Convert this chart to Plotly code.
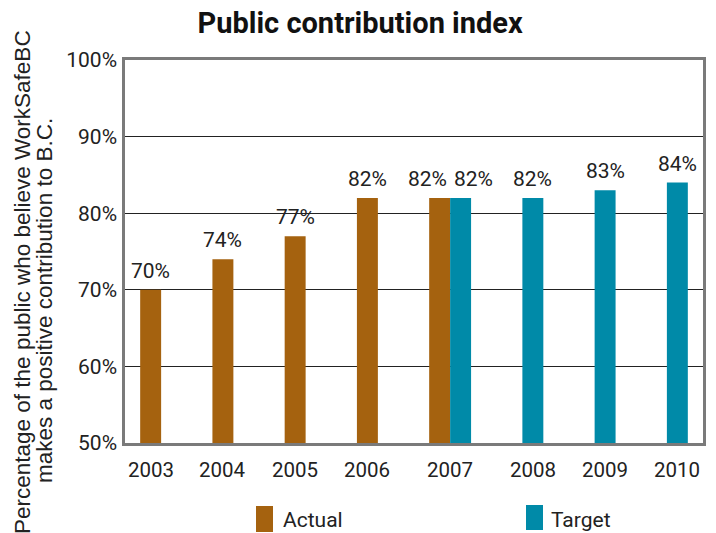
import plotly.graph_objects as go

years = ["2003", "2004", "2005", "2006", "2007", "2008", "2009", "2010"]
actual = [70, 74, 77, 82, 82, None, None, None]
target = [None, None, None, None, 82, 82, 83, 84]
y_ticks = [50, 60, 70, 80, 90, 100]
y_tick_text = ["50%", "60%", "70%", "80%", "90%", "100%"]
series_names = ["Actual", "Target"]
y_title_lines = [
    "Percentage of the public who believe WorkSafeBC",
    "makes a positive contribution to B.C.",
]

TXT = "Roboto, Liberation Sans, sans-serif"
BROWN = "#A5620F"
TEAL = "#008AA8"
INK = "#222222"
FRAME = "#7a7a7a"

W, H = 716, 533
L, R, T, B = 125, 13, 60, 90
PW, PH = W - L - R, H - T - B


def px_x(px):
    return (px - L) / PW


def px_y(py):
    return (H - B - py) / PH


fig = go.Figure()
for name, vals, color in zip(series_names, [actual, target], [BROWN, TEAL]):
    fig.add_trace(go.Bar(name=name, x=years, y=vals, marker_color=color,
                         marker_line_width=0, showlegend=False))

# value labels above each bar and year labels beneath the bars
# (annotations on a category axis are placed by category index)
HALF = 10.5
for idx, (yr, a, t) in enumerate(zip(years, actual, target)):
    both = a is not None and t is not None
    for val, sign in ((a, -1), (t, 1)):
        if val is None:
            continue
        fig.add_annotation(
            x=idx, y=val, text=f"{val}%", showarrow=False,
            xanchor="center", yanchor="bottom",
            xshift=sign * (23 if both else HALF), yshift=5,
            font=dict(family=TXT, size=21, color=INK),
        )
    shift = 0 if both else (-HALF if a is not None else HALF)
    fig.add_annotation(
        x=idx, y=0, yref="paper", text=yr, showarrow=False,
        xanchor="center", yanchor="middle", xshift=shift, yshift=-27,
        font=dict(family=TXT, size=20.5, color=INK),
    )

# legend swatches with their captions
for name, color, (sx0, sx1, sy0, sy1), tx in zip(
        series_names, [BROWN, TEAL],
        [(256, 273, 506, 532), (526, 543, 505, 530)], [281, 549]):
    fig.add_shape(type="rect", xref="paper", yref="paper",
                  x0=px_x(sx0), x1=px_x(sx1), y0=px_y(sy1), y1=px_y(sy0),
                  fillcolor=color, line_width=0)
    fig.add_annotation(text=name, xref="paper", yref="paper",
                       x=px_x(tx), y=px_y(520), showarrow=False,
                       xanchor="left", yanchor="middle",
                       font=dict(family=TXT, size=21, color=INK))

# rotated axis caption, two tightly spaced lines
for line, xpx, ypx in zip(y_title_lines, [22, 44], [282, 301]):
    fig.add_annotation(
        text=line, textangle=-90, showarrow=False,
        xref="paper", yref="paper", x=px_x(xpx), y=px_y(ypx),
        xanchor="center", yanchor="middle",
        font=dict(family="Liberation Sans, Arial, sans-serif", size=22.5, color=INK),
    )

fig.update_layout(
    width=W, height=H,
    margin=dict(l=L, r=R, t=T, b=B, autoexpand=False),
    paper_bgcolor="white", plot_bgcolor="white",
    barmode="group", bargap=0.42, bargroupgap=0,
    showlegend=False,
    title=dict(
        text="<b>Public contribution index</b>",
        font=dict(family=TXT, size=29, color="#111"),
        x=0.503, xanchor="center", y=0.957, yanchor="middle",
    ),
    xaxis=dict(
        type="category", categoryorder="array", categoryarray=years,
        range=[-0.5, len(years) - 0.5],
        showgrid=False, showticklabels=False,
        showline=True, linecolor=FRAME, linewidth=2.5, mirror=True,
        ticks="", ticklen=0,
    ),
    yaxis=dict(
        range=[50, 100], tickvals=y_ticks, ticktext=y_tick_text,
        tickfont=dict(family=TXT, size=21, color=INK),
        showgrid=True, gridcolor="#222", gridwidth=1,
        showline=True, linecolor=FRAME, linewidth=2.5, mirror=True,
        zeroline=False, ticks="", ticklen=0, ticklabelstandoff=1,
    ),
)

fig.write_html("out.html")
